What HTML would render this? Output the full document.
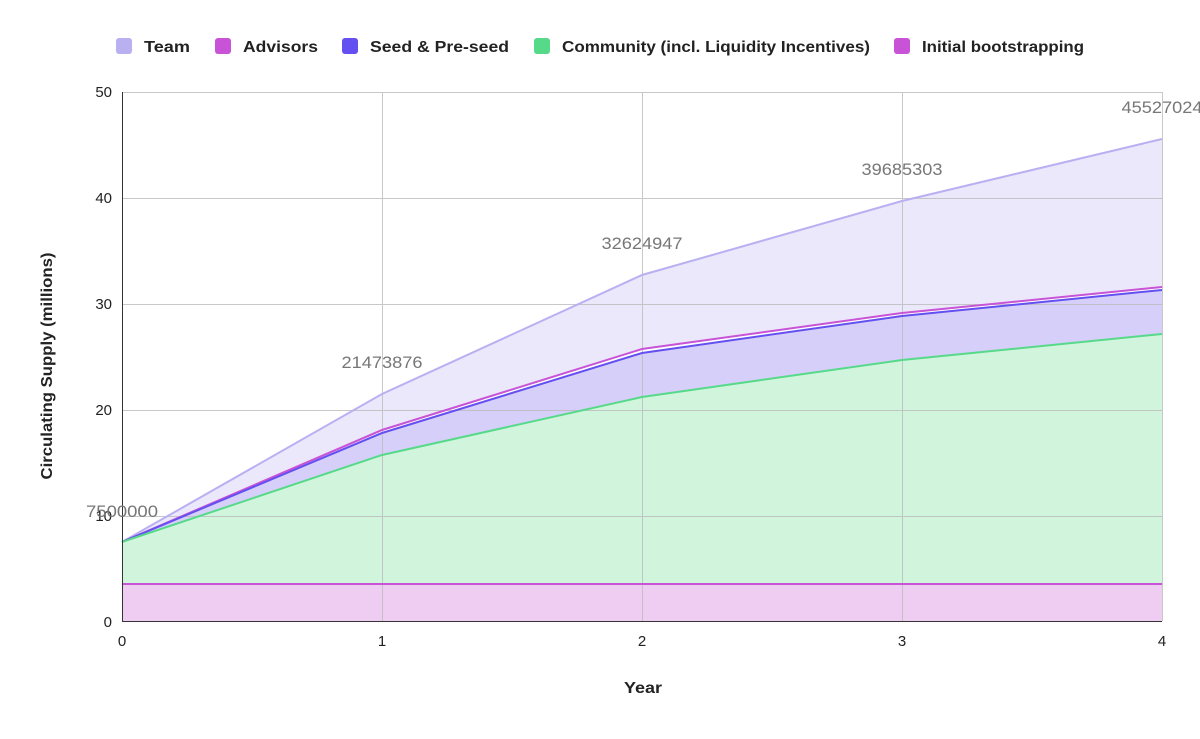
<!DOCTYPE html>
<html><head><meta charset="utf-8"><style>
body{margin:0;background:#fff;width:1200px;height:734px;overflow:hidden}
text{font-family:"Liberation Sans",Arial,sans-serif}
</style></head><body>
<svg width="1200" height="734" xmlns="http://www.w3.org/2000/svg">
<g font-size="16" fill="#222" font-weight="bold">
<rect x="116" y="38" width="16" height="16" rx="3" fill="#b9b0f2"/><text x="144" y="52" textLength="46" lengthAdjust="spacingAndGlyphs">Team</text>
<rect x="215" y="38" width="16" height="16" rx="3" fill="#c853d6"/><text x="243" y="52" textLength="75" lengthAdjust="spacingAndGlyphs">Advisors</text>
<rect x="342" y="38" width="16" height="16" rx="3" fill="#6450f0"/><text x="370" y="52" textLength="139" lengthAdjust="spacingAndGlyphs">Seed &amp; Pre-seed</text>
<rect x="534" y="38" width="16" height="16" rx="3" fill="#57d98a"/><text x="562" y="52" textLength="308" lengthAdjust="spacingAndGlyphs">Community (incl. Liquidity Incentives)</text>
<rect x="894" y="38" width="16" height="16" rx="3" fill="#c853d6"/><text x="922" y="52" textLength="162" lengthAdjust="spacingAndGlyphs">Initial bootstrapping</text>
</g>
<polygon points="122,542 382,394 642,275 902,201 1162,139 1162,287 902,313 642,349 382,430" fill="#ebe8fb"/>
<polygon points="122,542 382,433 642,353 902,316 1162,290 1162,334 902,360 642,397 382,455" fill="#d6cff9"/>
<polygon points="122,542 382,455 642,397 902,360 1162,334 1162,584 122,584" fill="#d0f5dc"/>
<rect x="122" y="584" width="1040" height="37" fill="#efcdf3"/>
<g stroke="#bbb" stroke-width="1" opacity="0.8">
<line x1="122" y1="92.5" x2="1162" y2="92.5"/><line x1="122" y1="198.5" x2="1162" y2="198.5"/>
<line x1="122" y1="304.5" x2="1162" y2="304.5"/><line x1="122" y1="410.5" x2="1162" y2="410.5"/>
<line x1="122" y1="516.5" x2="1162" y2="516.5"/>
<line x1="382.5" y1="92" x2="382.5" y2="621"/><line x1="642.5" y1="92" x2="642.5" y2="621"/>
<line x1="902.5" y1="92" x2="902.5" y2="621"/><line x1="1162.5" y1="92" x2="1162.5" y2="621"/>
</g>
<g fill="none" stroke-width="2">
<polyline points="122,542 382,394 642,275 902,201 1162,139" stroke="#b9b0f2"/>
<polyline points="122,542 382,430 642,349 902,313 1162,287" stroke="#c853d6"/>
<polyline points="122,542 382,433 642,353 902,316 1162,290" stroke="#6450f0"/>
<polyline points="122,542 382,455 642,397 902,360 1162,334" stroke="#57d98a"/>
<line x1="122" y1="584" x2="1162" y2="584" stroke="#c853d6"/>
</g>
<line x1="122.5" y1="92" x2="122.5" y2="621" stroke="#333"/>
<line x1="122" y1="621.5" x2="1162" y2="621.5" stroke="#333"/>
<g font-size="15" fill="#222" text-anchor="end">
<text x="112" y="97">50</text><text x="112" y="203">40</text><text x="112" y="309">30</text>
<text x="112" y="415">20</text><text x="112" y="521">10</text><text x="112" y="627">0</text>
</g>
<g font-size="15" fill="#222" text-anchor="middle">
<text x="122" y="646">0</text><text x="382" y="646">1</text><text x="642" y="646">2</text>
<text x="902" y="646">3</text><text x="1162" y="646">4</text>
</g>
<g font-size="17" fill="#777" text-anchor="middle">
<text x="122" y="517" textLength="72" lengthAdjust="spacingAndGlyphs">7500000</text>
<text x="382" y="368" textLength="81" lengthAdjust="spacingAndGlyphs">21473876</text>
<text x="642" y="249" textLength="81" lengthAdjust="spacingAndGlyphs">32624947</text>
<text x="902" y="175" textLength="81" lengthAdjust="spacingAndGlyphs">39685303</text>
<text x="1162" y="113" textLength="81" lengthAdjust="spacingAndGlyphs">45527024</text>
</g>
<text x="643" y="693" font-size="16" font-weight="bold" fill="#222" text-anchor="middle" textLength="38" lengthAdjust="spacingAndGlyphs">Year</text>
<text transform="translate(52,366) rotate(-90)" font-size="16" font-weight="bold" fill="#222" text-anchor="middle" textLength="227" lengthAdjust="spacingAndGlyphs">Circulating Supply (millions)</text>
</svg>
</body></html>
